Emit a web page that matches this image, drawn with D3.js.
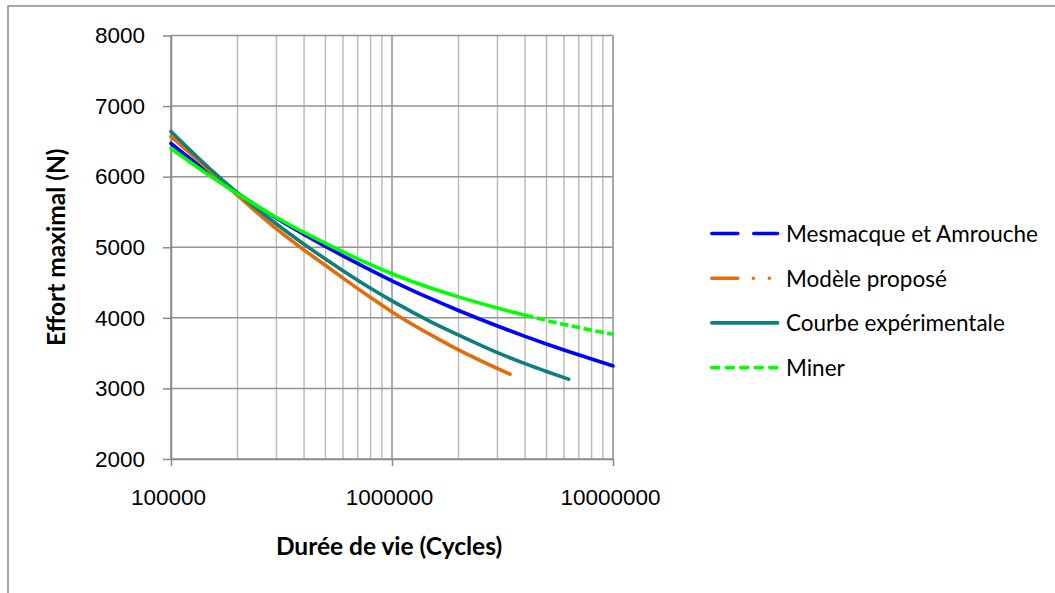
<!DOCTYPE html>
<html>
<head>
<meta charset="utf-8">
<script src="https://cdn.jsdelivr.net/npm/d3@7"></script>
<style>
  html, body { margin: 0; padding: 0; background: #fff; }
  svg { display: block; }
</style>
</head>
<body>
<svg id="chart" width="1055" height="593"></svg>
<script>
// S-N curves: number of cycles to failure vs. maximum load
const yTickValues = [2000, 3000, 4000, 5000, 6000, 7000, 8000];
const xTickValues = [100000, 1000000, 10000000];

const seriesNames = ["Mesmacque et Amrouche", "Modèle proposé", "Courbe expérimentale", "Miner"];

const cyclesMesmacque = [1e5, 1.5e5, 2e5, 3e5, 4e5, 5e5, 6e5, 8e5, 1e6, 1.5e6, 2e6, 3e6, 4e6, 5e6, 6e6, 8e6, 1e7];
const effortMesmacque = [6470, 6039, 5764, 5412, 5181, 5011, 4878, 4676, 4525, 4271, 4104, 3884, 3738, 3630, 3545, 3416, 3319];

const cyclesModele = [1e5, 1.5e5, 2e5, 3e5, 4e5, 5e5, 6e5, 8e5, 1e6, 1.5e6, 2e6, 3e6, 3.42e6];
const effortModele = [6570, 6080, 5735, 5260, 4962, 4744, 4563, 4288, 4084, 3758, 3546, 3282, 3202];

const cyclesExperimentale = [1e5, 1.5e5, 2e5, 3e5, 4e5, 5e5, 6e5, 8e5, 1e6, 1.5e6, 2e6, 3e6, 4e6, 5e6, 6.3e6];
const effortExperimentale = [6640, 6112, 5769, 5330, 5043, 4833, 4668, 4419, 4240, 3944, 3757, 3507, 3351, 3240, 3130];

const cyclesMiner = [1e5, 1.5e5, 2e5, 3e5, 4e5, 5e5, 6e5, 8e5, 1e6, 1.5e6, 2e6, 3e6, 4e6, 5e6, 6e6, 8e6, 1e7];
const effortMiner = [6400, 6013, 5757, 5422, 5210, 5055, 4934, 4753, 4625, 4422, 4297, 4139, 4037, 3963, 3907, 3825, 3768];

const zip = (xs, ys) => xs.map((c, i) => ({ c, v: ys[i] }));

const svg = d3.select("#chart");

// outer chart frame
svg.append("rect")
  .attr("x", 8).attr("y", 6).attr("width", 1200).attr("height", 800)
  .attr("fill", "none").attr("stroke", "#8a8a8a").attr("stroke-width", 1.5);

const plot = { left: 171, right: 613, top: 35.5, bottom: 459 };

const x = d3.scaleLog().domain([1e5, 1e7]).range([plot.left, plot.right]);
const y = d3.scaleLinear().domain([2000, 8000]).range([plot.bottom, plot.top]);

// vertical grid (log decades + minor)
const grid = svg.append("g");
const isMajor = d => Math.abs(Math.log10(d) - Math.round(Math.log10(d))) < 1e-9;
grid.selectAll("line.v")
  .data(x.ticks())
  .join("line")
  .attr("x1", d => x(d)).attr("x2", d => x(d))
  .attr("y1", plot.top).attr("y2", plot.bottom)
  .attr("stroke", d => isMajor(d) ? "#8c8c8c" : "#bdbdbd")
  .attr("stroke-width", 1.5);

// horizontal grid
grid.selectAll("line.h")
  .data(yTickValues)
  .join("line")
  .attr("x1", plot.left).attr("x2", plot.right)
  .attr("y1", d => y(d)).attr("y2", d => y(d))
  .attr("stroke", "#939393")
  .attr("stroke-width", 1.5);

// axes
const yAxis = svg.append("g")
  .attr("transform", `translate(${plot.left},0)`)
  .call(d3.axisLeft(y).tickValues(yTickValues).tickSizeInner(8).tickSizeOuter(0).tickPadding(18).tickFormat(d => String(d)));

const xAxis = svg.append("g")
  .attr("transform", `translate(0,${plot.bottom})`)
  .call(d3.axisBottom(x).tickValues(xTickValues).tickSizeInner(7).tickSizeOuter(0).tickPadding(23).tickFormat(d3.format("d")));

[yAxis, xAxis].forEach(g => {
  g.select(".domain").attr("stroke", "#8a8a8a").attr("stroke-width", 1.5);
  g.selectAll(".tick line").attr("stroke", "#8a8a8a").attr("stroke-width", 1.5);
  g.selectAll(".tick text")
    .attr("fill", "#000")
    .style("font-family", "'Liberation Sans', Arial, sans-serif")
    .style("font-size", "22.5px");
});
xAxis.selectAll(".tick text").attr("dx", "-3");

// series
const lineGen = d3.line()
  .x(d => x(d.c))
  .y(d => y(d.v))
  .curve(d3.curveMonotoneX);

const colors = ["#0000ff", "#e46c0a", "#0e7f7f", "#00ff00"];
const lw = 3.6;

const seriesG = svg.append("g").attr("fill", "none").attr("stroke-width", lw)
  .attr("stroke-linecap", "round").attr("stroke-linejoin", "round");

seriesG.append("path").datum(zip(cyclesMesmacque, effortMesmacque))
  .attr("d", lineGen).attr("stroke", colors[0]);
seriesG.append("path").datum(zip(cyclesModele, effortModele))
  .attr("d", lineGen).attr("stroke", colors[1]);
seriesG.append("path").datum(zip(cyclesExperimentale, effortExperimentale))
  .attr("d", lineGen).attr("stroke", colors[2]);

// Miner: dense segments read as solid, the sparse tail shows its dashes
const minerPts = zip(cyclesMiner, effortMiner);
const splitAt = 4e6;
seriesG.append("path").datum(minerPts.filter(d => d.c <= splitAt))
  .attr("d", lineGen).attr("stroke", colors[3]);
seriesG.append("path").datum(minerPts.filter(d => d.c >= splitAt))
  .attr("d", lineGen).attr("stroke", colors[3])
  .attr("stroke-linecap", "butt")
  .attr("stroke-dasharray", "8.5 3.5");

// axis titles
svg.append("text")
  .attr("transform", `translate(59,${(plot.top + plot.bottom) / 2}) rotate(-90)`)
  .attr("text-anchor", "middle")
  .attr("dominant-baseline", "middle")
  .style("font-family", "Lato, 'Open Sans', sans-serif")
  .style("font-weight", "bold")
  .style("font-size", "24.5px")
  .text("Effort maximal (N)");

svg.append("text")
  .attr("x", 389).attr("y", 555)
  .attr("text-anchor", "middle")
  .style("font-family", "Lato, 'Open Sans', sans-serif")
  .style("font-weight", "bold")
  .style("font-size", "24.5px")
  .text("Durée de vie (Cycles)");

// legend
const dashes = ["26 16", "26 15.5 0 16 0 40", null, "7 7.5"];
const legend = svg.append("g");
const legendY0 = 233.5, legendStep = 44.7;
seriesNames.forEach((name, i) => {
  const ly = legendY0 + i * legendStep;
  const ln = legend.append("line")
    .attr("x1", 711.8).attr("x2", 777.5)
    .attr("y1", ly).attr("y2", ly)
    .attr("stroke", colors[i]).attr("stroke-width", lw)
    .attr("stroke-linecap", "round");
  if (dashes[i]) ln.attr("stroke-dasharray", dashes[i]);
  legend.append("text")
    .attr("x", 786).attr("y", ly)
    .attr("dominant-baseline", "central")
    .style("font-family", "Lato, 'Open Sans', sans-serif")
    .style("font-size", "22.5px")
    .text(name);
});
</script>
</body>
</html>
